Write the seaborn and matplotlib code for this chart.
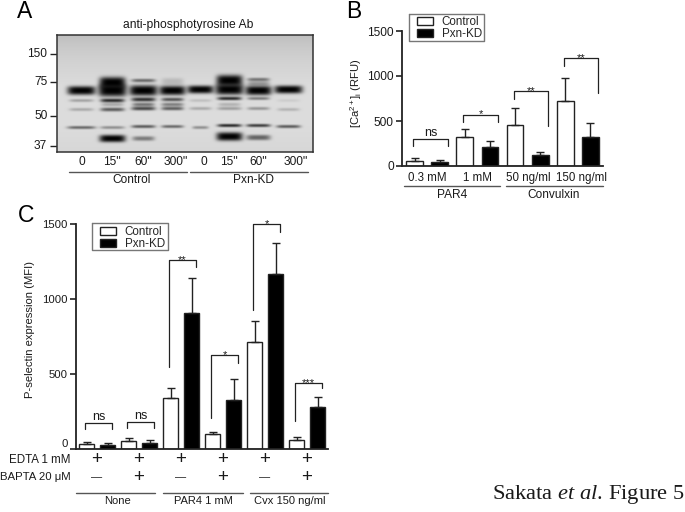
import numpy as np
import pandas as pd
import matplotlib
matplotlib.use("Agg")
import matplotlib.pyplot as plt
import seaborn as sns

W, H = 685, 512

# panel A: blot bands, one row per band
lane_labels = ["0", "15''", "60''", "300''", "0", "15''", "60''", "300''"]
lane_centers = [81, 112, 143, 172, 200, 229, 258, 288]
mw_labels = ["150", "75", "50", "37"]
mw_rows = [54, 82, 116, 146]
band_lane = [0, 1, 2, 3, 4, 5, 6, 7,  1, 5, 2, 6, 6, 3,
             0, 1, 2, 3, 4, 5, 6, 7,  0, 1, 2, 3, 4, 5, 6, 7,  1, 2, 3, 5,
             0, 1, 2, 3, 4, 5, 6, 7,  1, 2, 5, 6]
band_row = [90, 90, 90, 90, 89, 89, 90, 89,  82, 80, 80, 79, 83, 81,
            100, 100, 99, 99, 100, 98, 98, 100,  109, 109, 108, 108, 108, 108, 108, 109,  104, 104, 104, 104,
            127, 127, 126, 126, 127, 125, 125, 126,  138, 138, 136, 137]
band_hw = [14, 14, 14, 13, 13, 14, 13, 14,  13, 13, 12, 11, 11, 11,
           12, 12, 12, 11, 11, 12, 11, 11,  12, 12, 12, 11, 11, 12, 11, 11,  11, 11, 11, 11,
           14, 12, 12, 11, 8, 12, 12, 12,  13, 11, 13, 12]
band_hh = [4.3, 6, 5.2, 4.6, 3.9, 5.2, 4.6, 3.9,  5.5, 5.5, 1.6, 1.6, 2.2, 3.5,
           1.3, 1.7, 1.9, 1.7, 1.3, 1.6, 1.3, 1.3,  1.4, 1.8, 1.8, 1.7, 1.4, 1.5, 1.4, 1.4,  1.7, 1.7, 1.7, 1.7,
           1.3, 1.3, 1.4, 1.3, 1.3, 1.4, 1.4, 1.4,  3.6, 2.2, 4.2, 2.6]
band_dark = [1, 1, 1, 1, 1, 1, 1, 1,  1, 1, 0.55, 0.5, 0.3, 0.15,
             0.3, 0.85, 0.8, 0.65, 0.15, 0.85, 0.5, 0.08,  0.25, 0.6, 0.7, 0.6, 0.25, 0.3, 0.35, 0.2,  0.25, 0.5, 0.45, 0.2,
             0.6, 0.4, 0.65, 0.6, 0.4, 0.9, 0.8, 0.65,  1, 0.45, 1, 0.55]
blot_bg = [0.75, 0.79, 0.82, 0.84, 0.86, 0.86, 0.86, 0.86, 0.85, 0.84]

# panel B
b_groups = ["0.3 mM", "1 mM", "50 ng/ml", "150 ng/ml"]
b_label_pos = [0, 1, 2.02, 3.07]
b_control = [60, 327, 460, 717]
b_control_top = [90, 412, 639, 973]
b_pxn = [45, 208, 126, 327]
b_pxn_top = [67, 282, 160, 483]
b_signs = ["ns", "*", "**", "**"]
b_tops = [297, 572, 835, 1196]
b_left_ends = [223, 490, 750, 1110]
b_right_ends = [223, 490, 445, 813]

# panel C
c_groups = ["None-", "None+", "PAR4-", "PAR4+", "Cvx-", "Cvx+"]
c_control = [33, 53, 341, 97, 716, 62]
c_control_top = [47, 71, 410, 111, 851, 82]
c_pxn = [27, 38, 904, 330, 1168, 281]
c_pxn_top = [38, 58, 1143, 465, 1376, 346]
c_signs = ["ns", "ns", "**", "*", "*", "***"]
c_tops = [173, 180, 1263, 625, 1498, 439]
c_left_ends = [135, 142, 550, 210, 924, 184]
c_right_ends = [135, 142, 1212, 572, 1447, 405]
edta_row = ["+", "+", "+", "+", "+", "+"]
bapta_row = ["\u2014", "+", "\u2014", "+", "\u2014", "+"]

sns.set_theme(style="ticks")
plt.rcParams["font.family"] = ["Liberation Sans", "DejaVu Sans"]
plt.rcParams["mathtext.fontset"] = "custom"
plt.rcParams["mathtext.rm"] = "Liberation Serif"
plt.rcParams["mathtext.it"] = "Liberation Serif:italic"
plt.rcParams["mathtext.default"] = "regular"
TXT = "#1a1a1a"
FS = 8.4


def px_axes(fig, left, top, right, bottom):
    return fig.add_axes([left / W, 1 - bottom / H, (right - left) / W, (bottom - top) / H])


def blot_image():
    # builds the grey picture from the band table, overlapping bands add up
    ny, nx = 117, 256
    yy, xx = np.mgrid[0:ny, 0:nx]
    bg = np.interp(yy[:, 0], np.linspace(0, ny - 1, len(blot_bg)), blot_bg)
    img = np.tile(bg[:, None], (1, nx))
    for lane, row, hw, hh, dark in zip(band_lane, band_row, band_hw, band_hh, band_dark):
        cx = lane_centers[lane] - 57
        cy = row - 35
        shape = np.exp(-np.abs((xx - cx) / hw) ** 5 - np.abs((yy - cy) / hh) ** 3)
        img = img * (1 - dark * shape)
    # soften a little, the scan is not sharp
    kernel = np.array([0.25, 0.5, 0.25])
    for axis in (0, 1):
        img = np.apply_along_axis(lambda v: np.convolve(v, kernel, mode="same"), axis, img)
    img[0, :] = img[1, :]
    img[-1, :] = img[-2, :]
    img[:, 0] = img[:, 1]
    img[:, -1] = img[:, -2]
    return img


def bars(ax, groups, control, control_top, pxn, pxn_top, gap):
    df = pd.DataFrame({
        "group": groups * 2,
        "value": control + pxn,
        "treatment": ["Control"] * len(groups) + ["Pxn-KD"] * len(groups),
    })
    sns.barplot(data=df, x="group", y="value", hue="treatment", ax=ax, errorbar=None,
                palette={"Control": "white", "Pxn-KD": "black"}, saturation=1,
                edgecolor="#222222", linewidth=1, width=1.0, gap=gap)
    centers = [[p.get_x() + p.get_width() / 2 for p in c] for c in ax.containers]
    for xs, vals, tops in zip(centers, [control, pxn], [control_top, pxn_top]):
        up = np.array(tops) - np.array(vals)
        ax.errorbar(xs, vals, yerr=[np.zeros(len(up)), up], fmt="none", ecolor="#222222",
                    elinewidth=1, capsize=3, capthick=1, zorder=1)
    ax.set_xlim(-0.5, len(groups) - 0.5)
    ax.set_ylim(0, 1500)
    ax.set_yticks([0, 500, 1000, 1500])
    sns.despine(ax=ax)
    for s in ["left", "bottom"]:
        ax.spines[s].set_linewidth(1.3)
        ax.spines[s].set_color("#222222")
    ax.tick_params(axis="x", length=0)
    ax.tick_params(axis="y", length=4, width=1.2, color="#222222", pad=2)
    ax.set_xlabel("")
    return centers


def brackets(ax, xs, signs, tops, left_ends, right_ends, off):
    for i, sign in enumerate(signs):
        x0, x1 = xs[0][i] + off[0], xs[1][i] + off[1]
        ax.plot([x0, x0, x1, x1], [left_ends[i], tops[i], tops[i], right_ends[i]],
                color="#222222", lw=0.9, clip_on=False)
        dy = 2 if sign == "ns" else -2.2
        ax.annotate(sign, ((x0 + x1) / 2, tops[i]), xytext=(0, dy), textcoords="offset points",
                    ha="center", va="baseline", fontsize=9 if sign == "ns" else 8, color=TXT,
                    annotation_clip=False)


def legend(ax, anchor):
    handles, labels = ax.get_legend_handles_labels()
    ax.legend(handles, labels, loc="upper left", bbox_to_anchor=(anchor[0] / W, 1 - anchor[1] / H),
              bbox_transform=ax.figure.transFigure, frameon=False, fontsize=FS,
              handlelength=1.37, handleheight=0.7, labelspacing=0.0, handletextpad=0.75,
              borderpad=0, borderaxespad=0)


fig = plt.figure(figsize=(W / 100, H / 100), dpi=100)

# panel A
ax_a = px_axes(fig, 57, 35, 313, 152)
sns.heatmap(blot_image(), cmap="gray", vmin=0, vmax=1, cbar=False, ax=ax_a, rasterized=True)
ax_a.set_xticks([])
ax_a.set_yticks([r - 35 for r in mw_rows])
ax_a.set_yticklabels(mw_labels, rotation=0, fontsize=8.6, color=TXT)
ax_a.tick_params(axis="y", length=5, width=1, color="#222222", pad=2)
for s in ax_a.spines.values():
    s.set_visible(True)
    s.set_color("#333333")
    s.set_linewidth(1.1)

# panel B
ax_b = px_axes(fig, 402, 31, 603, 166)
xs_b = bars(ax_b, b_groups, b_control, b_control_top, b_pxn, b_pxn_top, 0.33)
ax_b.set_xticks(b_label_pos)
ax_b.set_xticklabels(b_groups, fontsize=8.3, color=TXT)
ax_b.tick_params(axis="x", pad=4)
ax_b.tick_params(axis="y", labelsize=8.6, labelcolor=TXT)
ax_b.set_ylabel(r"[Ca$^{2+}$]$_{i}$ (RFU)", fontsize=8.1, color=TXT)
ax_b.yaxis.set_label_coords(-0.189, 0.54)
brackets(ax_b, xs_b, b_signs, b_tops, b_left_ends, b_right_ends, (-0.03, 0.16))
legend(ax_b, (417, 16))

# panel C
ax_c = px_axes(fig, 76, 224, 328, 449)
xs_c = bars(ax_c, c_groups, c_control, c_control_top, c_pxn, c_pxn_top, 0.31)
ax_c.set_xticks([])
ax_c.tick_params(axis="y", labelsize=8.2, labelcolor=TXT)
ax_c.get_yticklabels()[0].set_verticalalignment("bottom")
ax_c.set_ylabel("P-selectin expression (MFI)", fontsize=8.1, color=TXT)
ax_c.yaxis.set_label_coords(-0.163, 0.533)
brackets(ax_c, xs_c, c_signs, c_tops, c_left_ends, c_right_ends, (-0.04, 0.11))
legend(ax_c, (100, 226))
for i in range(len(c_groups)):
    ax_c.text(i, (449 - 460) / 225, edta_row[i], transform=ax_c.get_xaxis_transform(),
              ha="center", va="center", fontsize=13.5, color=TXT)
    ax_c.text(i, (449 - 477) / 225, bapta_row[i], transform=ax_c.get_xaxis_transform(),
              ha="center", va="center", fontsize=13.5 if bapta_row[i] == "+" else 8, color=TXT)

# loose labels and group lines, in picture pixels
ov = fig.add_axes([0, 0, 1, 1], facecolor="none")
ov.set_xlim(0, W)
ov.set_ylim(H, 0)
ov.axis("off")
for x0, y0, x1, y1 in [(409, 14, 484, 41), (92, 223, 168, 250)]:
    ov.plot([x0, x1, x1, x0, x0], [y0, y0, y1, y1, y0], color="#777777", lw=1)
for letter, x, y in [("A", 17, 12), ("B", 346, 12), ("C", 18, 216)]:
    ov.text(x, y, letter, fontsize=16.5, ha="left", va="center", color="black")
ov.text(188, 25, "anti-phosphotyrosine Ab", fontsize=8.7, ha="center", va="center", color=TXT)
for x, lab in zip([82, 112, 143, 176, 204, 229, 258, 296], lane_labels):
    ov.text(x, 162, lab, fontsize=8.6, ha="center", va="center", color=TXT)
group_lines = [
    (69, 187, 172, "Control", 132, 180, 8.6),
    (190, 308, 172, "Pxn-KD", 254, 180, 8.6),
    (404, 500, 186, "PAR4", 452, 195, 8.6),
    (506, 603, 186, "Convulxin", 554, 195, 8.6),
    (76, 155, 493, "None", 118, 501, 8),
    (163, 243, 493, "PAR4 1 mM", 203, 501, 8),
    (250, 328, 493, "Cvx 150 ng/ml", 290, 501, 8),
]
for x0, x1, y, lab, tx, ty, fs in group_lines:
    ov.plot([x0, x1], [y, y], color="#555555", lw=1)
    ov.text(tx, ty, lab, fontsize=fs, ha="center", va="center", color=TXT)
ov.text(71, 460, "EDTA 1 mM", fontsize=8.3, ha="right", va="center", color=TXT)
ov.text(71, 477, "BAPTA 20 \u03bcM", fontsize=8.2, ha="right", va="center", color=TXT)
ov.text(685, 495, "Sakata $\\mathit{et\\ al}$. Figure 5", fontsize=16.2, ha="right", va="center",
        family="Liberation Serif", color=TXT)

fig.savefig("out.png", dpi=100)
